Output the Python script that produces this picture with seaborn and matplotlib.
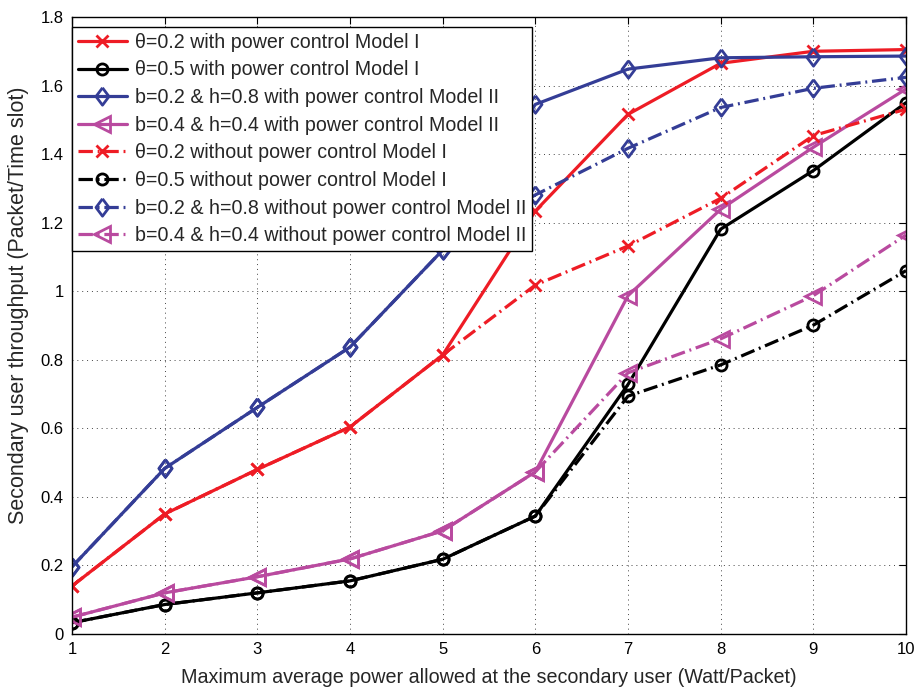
import numpy as np
import pandas as pd
import matplotlib
matplotlib.use("Agg")
import matplotlib.pyplot as plt
import seaborn as sns
from matplotlib.ticker import FuncFormatter

x = [1, 2, 3, 4, 5, 6, 7, 8, 9, 10]

theta02_pc = [0.14, 0.35, 0.48, 0.604, 0.814, 1.234, 1.516, 1.665, 1.70, 1.705]
theta05_pc = [0.033, 0.086, 0.12, 0.155, 0.218, 0.344, 0.728, 1.181, 1.352, 1.55]
b02h08_pc = [0.196, 0.483, 0.661, 0.837, 1.12, 1.545, 1.648, 1.681, 1.684, 1.686]
b04h04_pc = [0.049, 0.12, 0.167, 0.219, 0.301, 0.473, 0.987, 1.239, 1.42, 1.59]
theta02_npc = [0.14, 0.35, 0.48, 0.604, 0.814, 1.018, 1.132, 1.271, 1.454, 1.531]
theta05_npc = [0.033, 0.086, 0.12, 0.155, 0.218, 0.344, 0.694, 0.785, 0.901, 1.06]
b02h08_npc = [0.196, 0.483, 0.661, 0.837, 1.12, 1.281, 1.417, 1.536, 1.592, 1.624]
b04h04_npc = [0.049, 0.12, 0.167, 0.219, 0.301, 0.473, 0.762, 0.861, 0.987, 1.164]

labels = [
    "θ=0.2 with power control Model I",
    "θ=0.5 with power control Model I",
    "b=0.2 & h=0.8 with power control Model II",
    "b=0.4 & h=0.4 with power control Model II",
    "θ=0.2 without power control Model I",
    "θ=0.5 without power control Model I",
    "b=0.2 & h=0.8 without power control Model II",
    "b=0.4 & h=0.4 without power control Model II",
]
series = [theta02_pc, theta05_pc, b02h08_pc, b04h04_pc,
          theta02_npc, theta05_npc, b02h08_npc, b04h04_npc]

RED = "#ee1c25"
BLACK = "#000000"
BLUE = "#343d96"
MAG = "#b94a9f"
colors = [RED, BLACK, BLUE, MAG, RED, BLACK, BLUE, MAG]
diamond = [(0, 1), (0.75, 0), (0, -1), (-0.75, 0), (0, 1)]
markers = ["x", "o", diamond, "<", "x", "o", diamond, "<"]
msizes = [8, 8, 12.5, 11, 8, 8, 12.5, 11]
dashdot = (0, (4.5, 1.5, 0.6, 1.5))
styles = ["-"] * 4 + [dashdot] * 4

sns.set_theme(style="white")
plt.rcParams['font.family'] = ['Liberation Sans', 'DejaVu Sans']

fig = plt.figure(figsize=(9.19, 6.9), dpi=100)
ax = fig.add_axes([72/919, 1 - 634/690, (906-72)/919, (634-17)/690])

for xs_lab, ys, c, m, ms, ls in zip(labels, series, colors, markers, msizes, styles):
    df = pd.DataFrame({"x": x, "y": ys})
    sns.lineplot(data=df, x="x", y="y", ax=ax, color=c, marker=m,
                 markersize=ms, markerfacecolor="none", markeredgecolor=c,
                 markeredgewidth=2.0, linewidth=2.3, linestyle=ls,
                 label=xs_lab)

ax.set_xlim(1, 10)
ax.set_ylim(0, 1.8)
ax.set_xticks(x)
ax.set_yticks(np.arange(0, 1.81, 0.2))
ax.yaxis.set_major_formatter(FuncFormatter(lambda v, p: f"{v:g}"))
ax.grid(True, color="#444444", linestyle=(0, (1, 4)), linewidth=0.7)
for s in ax.spines.values():
    s.set_color("black")
    s.set_linewidth(1.0)
ax.tick_params(direction="in", top=True, right=True, length=5, width=0.8,
               labelsize=12, colors="black", pad=6)
ax.set_xlabel("Maximum average power allowed at the secondary user (Watt/Packet)",
              fontsize=14.2, labelpad=8)
ax.set_ylabel("Secondary user throughput (Packet/Time slot)", fontsize=15.5)
ax.yaxis.set_label_coords(-0.052, 0.533)

leg = ax.legend(loc="upper left", bbox_to_anchor=(0.0, 1 - 10/617),
                borderaxespad=0.0, fontsize=14.1, frameon=True, fancybox=False,
                edgecolor="black", framealpha=1, handlelength=2.5,
                handletextpad=0.4, labelspacing=0.44, borderpad=0.3)
leg.get_frame().set_linewidth(1.0)

fig.savefig("out.png", dpi=100)
